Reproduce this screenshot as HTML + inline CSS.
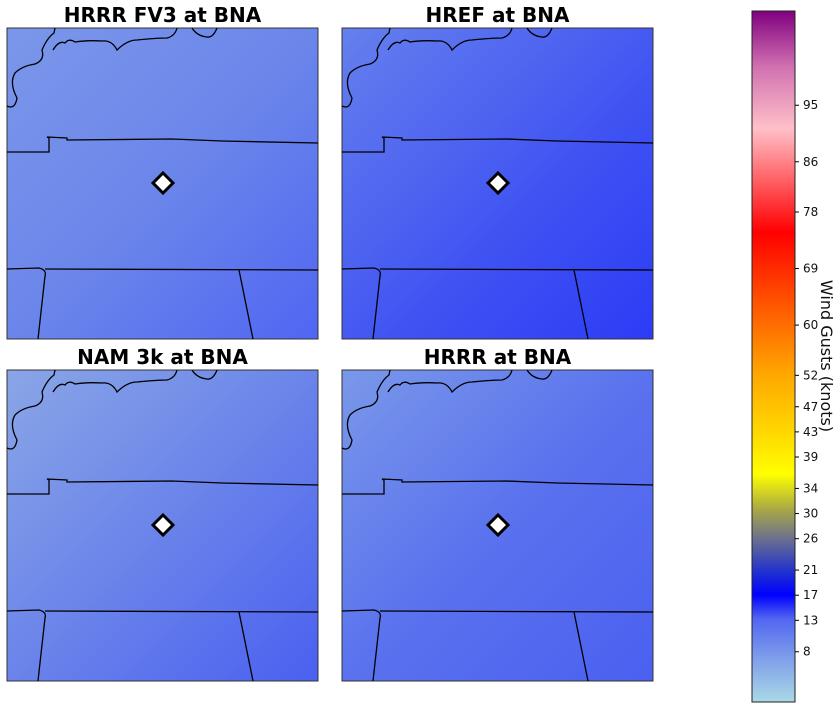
<!DOCTYPE html>
<html><head><meta charset="utf-8"><style>
body{margin:0;background:#fff;width:839px;height:709px;overflow:hidden;font-family:"DejaVu Sans","Liberation Sans",sans-serif}
</style></head><body>
<svg id="s" width="839" height="709" xmlns="http://www.w3.org/2000/svg" font-family="DejaVu Sans, Liberation Sans, sans-serif">
<defs>
<linearGradient id="cb" x1="0" y1="1" x2="0" y2="0">
<stop offset="0" stop-color="#a9d9e6"/>
<stop offset="0.07" stop-color="#7a98ea"/>
<stop offset="0.12" stop-color="#5266f2"/>
<stop offset="0.155" stop-color="#0000ff"/>
<stop offset="0.19" stop-color="#2233cc"/>
<stop offset="0.235" stop-color="#6a6e90"/>
<stop offset="0.28" stop-color="#aaaa44"/>
<stop offset="0.33" stop-color="#ffff00"/>
<stop offset="0.39" stop-color="#ffd800"/>
<stop offset="0.47" stop-color="#ffaa00"/>
<stop offset="0.55" stop-color="#ff6a00"/>
<stop offset="0.64" stop-color="#ff2000"/>
<stop offset="0.68" stop-color="#ff0000"/>
<stop offset="0.83" stop-color="#ffc0c8"/>
<stop offset="0.92" stop-color="#d070b0"/>
<stop offset="1" stop-color="#800080"/>
</linearGradient>
<linearGradient id="g0" x1="0" y1="0" x2="1" y2="1"><stop offset="0" stop-color="#7b97ea"/><stop offset="0.5" stop-color="#6b86ea"/><stop offset="1" stop-color="#5066f2"/></linearGradient>
<linearGradient id="g1" x1="0" y1="0" x2="1" y2="1"><stop offset="0" stop-color="#6580ee"/><stop offset="0.6" stop-color="#3f52f2"/><stop offset="1" stop-color="#2c3cf6"/></linearGradient>
<linearGradient id="g2" x1="0" y1="0" x2="1" y2="1"><stop offset="0" stop-color="#8aa6e6"/><stop offset="0.5" stop-color="#6a84ea"/><stop offset="1" stop-color="#4a60f0"/></linearGradient>
<linearGradient id="g3" x1="0" y1="0" x2="1" y2="1"><stop offset="0" stop-color="#7a98ea"/><stop offset="0.5" stop-color="#5a72ee"/><stop offset="1" stop-color="#4a60f0"/></linearGradient>
</defs>
<g id="panels"></g>
<rect x="752" y="11" width="43" height="691" fill="url(#cb)" stroke="#222" stroke-width="1"/>
<g id="cbticks"></g>
<text x="821" y="356" font-size="16" transform="rotate(90 821 356)" text-anchor="middle" fill="#111">Wind Gusts (knots)</text>
</svg>
<script>
const panelTitles=["HRRR FV3 at BNA","HREF at BNA","NAM 3k at BNA","HRRR at BNA"];
const tickValues=[8,13,17,21,26,30,34,39,43,47,52,60,69,78,86,95];
const cbMin=0, cbMax=110;
const NS="http://www.w3.org/2000/svg";
const svg=document.getElementById('panels');
const origins=[[7,28],[342,28],[7,370],[342,370]];
function mk(t,a,p){const e=document.createElementNS(NS,t);for(const k in a)e.setAttribute(k,a[k]);p.appendChild(e);return e;}
origins.forEach((o,i)=>{
 const g=mk('g',{transform:`translate(${o[0]},${o[1]})`},svg);
 
 
 const r=mk('rect',{x:0,y:0,width:311,height:311,fill:`url(#g${i})`,stroke:'#333','stroke-width':1},g);
 
 
 const b=mk('path',{d:'M0,124 L42,124 L42,110 L40,109 L60,110 L60,112 L165,111 L215,113 L311,115 M0,241 L32,240 Q40,242 38,248 L31,311 M38,241 L311,242 M232,242 L246,311 M0,78 Q8,82 10,70 Q2,55 8,45 Q15,38 28,36 Q38,32 35,22 Q40,10 47,5 L48,0 M46,22 Q52,12 58,15 Q62,10 68,14 Q80,12 95,13 Q105,12 110,22 Q120,12 130,12 Q150,10 160,10 Q168,8 170,0 M185,0 Q190,8 200,9 Q206,10 210,0',fill:'none',stroke:'#000','stroke-width':1.3},g);
 
 
 const d=mk('path',{d:'M156,145 L166,155 L156,165 L146,155 Z',fill:'#fff',stroke:'#000','stroke-width':3},g);
 
 
 const t=mk('text',{x:155.5,y:-6,'font-size':20,'font-weight':'bold','text-anchor':'middle',fill:'#000'},g);
 t.textContent=panelTitles[i];
 
 
});
const ct=document.getElementById('cbticks');
function yOf(v){return 702-(v-cbMin)/(cbMax-cbMin)*691;}
tickValues.forEach(v=>{
 const y=yOf(v);
 const l=mk('line',{x1:795,x2:799,y1:y,y2:y,stroke:'#000'},ct);
 
 
 const t=mk('text',{x:803,y:y+4,'font-size':12,fill:'#111'},ct);
 t.textContent=v;
 
 
});
</script>
</body></html>
